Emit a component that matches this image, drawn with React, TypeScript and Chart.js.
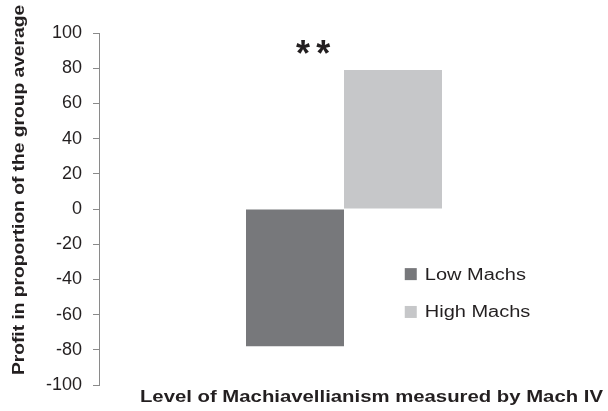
import React, { useEffect, useRef } from 'react';
import Chart from 'chart.js/auto';

const categories = ['Level of Machiavellianism measured by Mach IV'];
const seriesNames = ['Low Machs', 'High Machs'];
const lowMachs = [-78];
const highMachs = [79];
const seriesColors = ['#77787b', '#c6c7c9'];
const yMin = -100;
const yMax = 100;
const yStep = 20;
const yTitle = 'Profit in proportion of the group average';
const xTitle = 'Level of Machiavellianism measured by Mach IV';
const significance = '**';
const significanceLevel = 87;

const TEXT = '#231f20';
const FONT = '"Liberation Sans", Arial, sans-serif';

const decorPlugin = {
  id: 'decor',
  afterDraw(chart: any) {
    const { ctx, chartArea } = chart;
    const w = chartArea.right - chartArea.left;
    const yScale = chart.scales.y;
    ctx.save();
    ctx.fillStyle = TEXT;
    // y title
    ctx.save();
    ctx.translate(20, 190);
    ctx.rotate(-Math.PI / 2);
    ctx.scale(1.2, 1);
    ctx.font = `bold 16px ${FONT}`;
    ctx.textAlign = 'center';
    ctx.textBaseline = 'middle';
    ctx.fillText(yTitle, 0, 0);
    ctx.restore();
    // x title
    ctx.save();
    ctx.translate(chartArea.left + 0.556 * w, chartArea.bottom + 13);
    ctx.scale(1.27, 1);
    ctx.font = `bold 16px ${FONT}`;
    ctx.textAlign = 'center';
    ctx.textBaseline = 'middle';
    ctx.fillText(xTitle, 0, 0);
    ctx.restore();
    // significance stars
    ctx.save();
    ctx.translate(chartArea.left + 0.437 * w, yScale.getPixelForValue(significanceLevel));
    ctx.font = `bold 36px ${FONT}`;
    (ctx as any).letterSpacing = '6px';
    ctx.textAlign = 'center';
    ctx.textBaseline = 'middle';
    ctx.fillText(significance, 3, 0);
    ctx.restore();
    // legend
    const lx = chartArea.left + 0.624 * w;
    const ys = [yScale.getPixelForValue(-37), yScale.getPixelForValue(-58.5)];
    chart.data.datasets.forEach((ds: any, i: number) => {
      ctx.fillStyle = ds.backgroundColor;
      ctx.fillRect(lx, ys[i] - 6, 12, 12);
      ctx.save();
      ctx.translate(lx + 20, ys[i]);
      ctx.scale(1.25, 1);
      ctx.fillStyle = TEXT;
      ctx.font = `16px ${FONT}`;
      ctx.textAlign = 'left';
      ctx.textBaseline = 'middle';
      ctx.fillText(ds.label, 0, 1);
      ctx.restore();
    });
    ctx.restore();
  },
};

export default function App() {
  const ref = useRef<HTMLCanvasElement>(null);
  useEffect(() => {
    if (!ref.current) return;
    const chart = new Chart(ref.current, {
      type: 'bar',
      data: {
        labels: categories,
        datasets: [
          { label: seriesNames[0], data: lowMachs, backgroundColor: seriesColors[0], borderWidth: 0, categoryPercentage: 0.4, barPercentage: 1 },
          { label: seriesNames[1], data: highMachs, backgroundColor: seriesColors[1], borderWidth: 0, categoryPercentage: 0.4, barPercentage: 1 },
        ],
      },
      options: {
        responsive: false,
        animation: false,
        layout: { padding: { left: 0, top: 33, right: 19, bottom: 26 } },
        plugins: { legend: { display: false }, tooltip: { enabled: false }, title: { display: false } },
        scales: {
          x: { display: false },
          y: {
            min: yMin,
            max: yMax,
            afterFit: (s: any) => { s.width = 99; },
            ticks: { stepSize: yStep, color: TEXT, padding: 11, font: { size: 18, family: FONT } },
            grid: { drawOnChartArea: false, drawTicks: true, tickLength: 6, color: '#8a8a8a', lineWidth: 1 },
            border: { display: true, color: '#8a8a8a', width: 1 },
          },
        },
      },
      plugins: [decorPlugin],
    } as any);
    return () => chart.destroy();
  }, []);
  return (
    <div style={{ position: 'fixed', left: 0, top: 0, width: 608, height: 411, background: '#fff' }}>
      <canvas ref={ref} width={608} height={411} />
    </div>
  );
}
